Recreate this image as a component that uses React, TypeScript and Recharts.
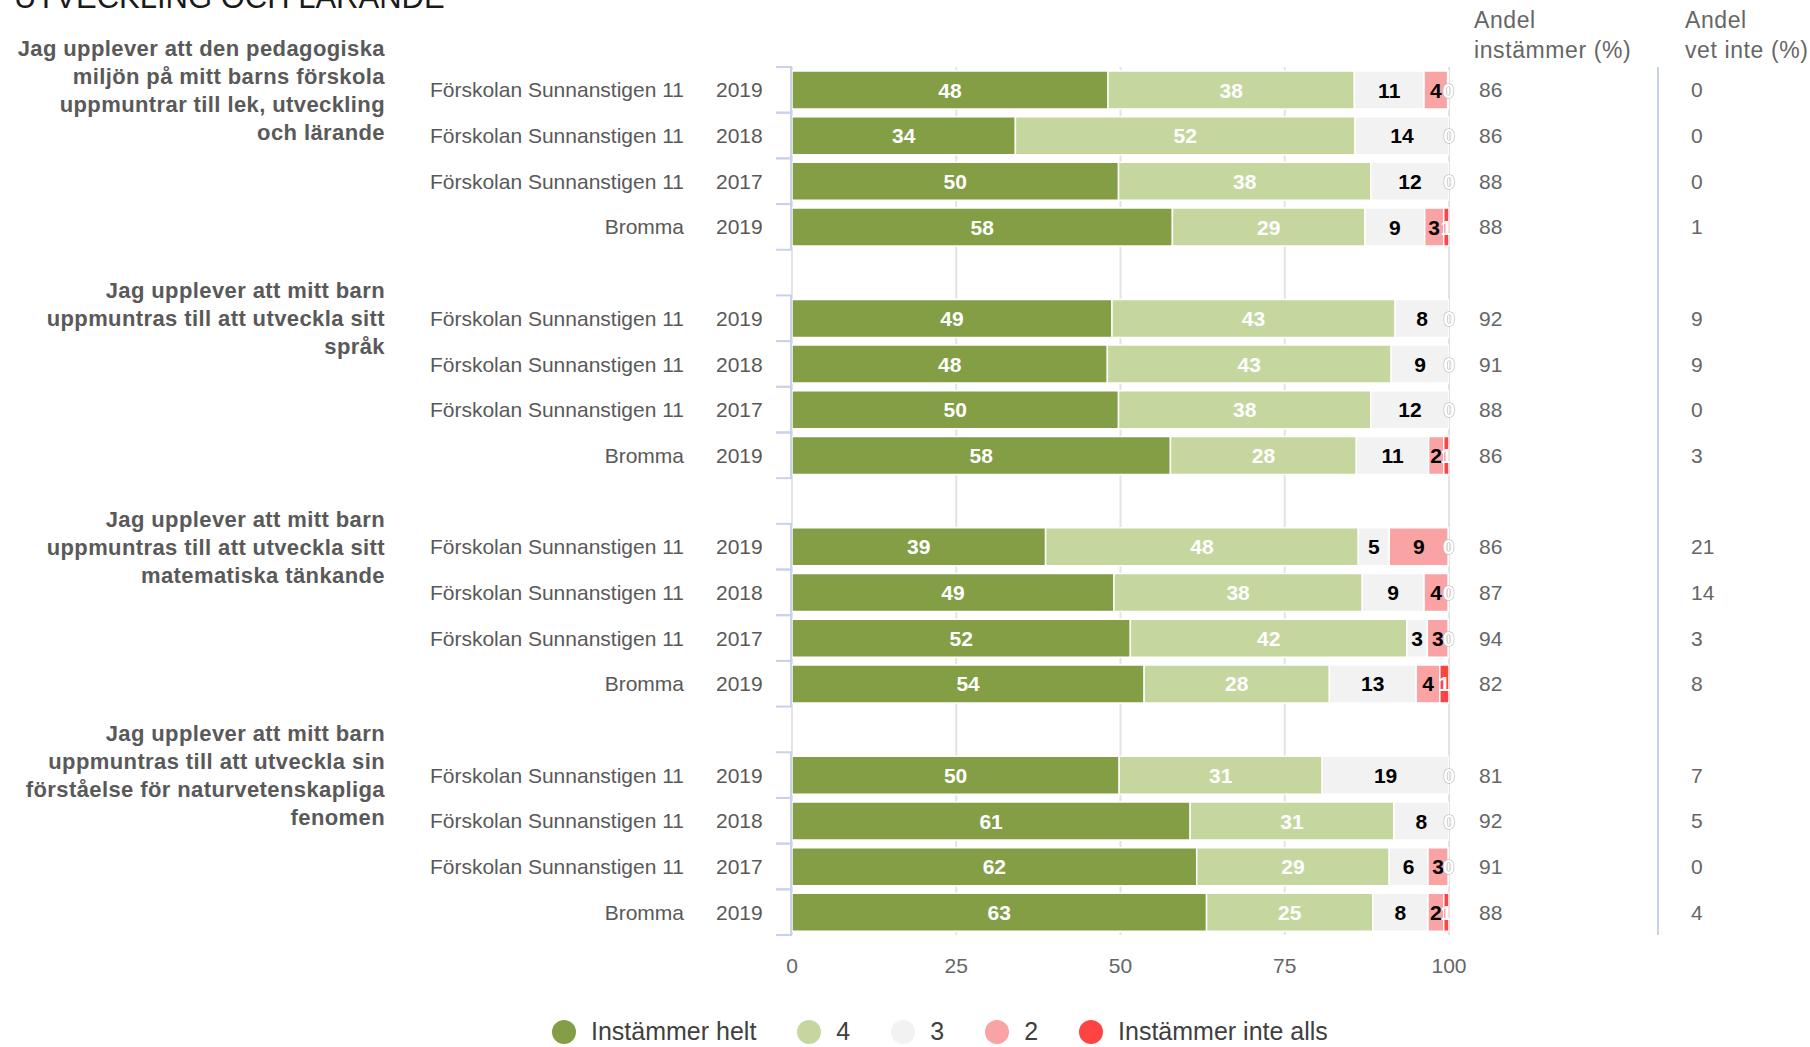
import React from "react";
import { BarChart, Bar, XAxis, YAxis, CartesianGrid, Legend, LabelList } from "recharts";

const questions = [
  ["Jag upplever att den pedagogiska", "miljön på mitt barns förskola", "uppmuntrar till lek, utveckling", "och lärande"],
  ["Jag upplever att mitt barn", "uppmuntras till att utveckla sitt", "språk"],
  ["Jag upplever att mitt barn", "uppmuntras till att utveckla sitt", "matematiska tänkande"],
  ["Jag upplever att mitt barn", "uppmuntras till att utveckla sin", "förståelse för naturvetenskapliga", "fenomen"],
];
const units = ["Förskolan Sunnanstigen 11", "Förskolan Sunnanstigen 11", "Förskolan Sunnanstigen 11", "Bromma"];
const years = ["2019", "2018", "2017", "2019"];

// share per answer, 4 rows per question
const helt = [48.1, 34.0, 49.7, 57.9, 48.7, 48.0, 49.7, 57.6, 38.6, 49.0, 51.5, 53.6, 49.8, 60.6, 61.6, 63.1];
const fyra = [37.5, 51.7, 38.4, 29.3, 43.1, 43.2, 38.4, 28.3, 47.6, 37.8, 42.1, 28.2, 30.9, 31.0, 29.3, 25.3];
const tre = [10.6, 14.3, 11.9, 9.1, 8.2, 8.8, 11.9, 11.0, 4.7, 9.4, 3.1, 13.2, 19.3, 8.4, 5.9, 8.4];
const tva = [3.6, 0, 0, 2.9, 0, 0, 0, 2.3, 9.0, 3.7, 3.2, 3.6, 0, 0, 3.1, 2.4];
const inteAlls = [0.2, 0, 0, 0.8, 0, 0, 0, 0.8, 0.1, 0.1, 0.1, 1.4, 0, 0, 0.1, 0.8];

const andelInstammer = [86, 86, 88, 88, 92, 91, 88, 86, 86, 87, 94, 82, 81, 92, 91, 88];
const andelVetInte = [0, 0, 0, 1, 9, 9, 0, 3, 21, 14, 3, 8, 7, 5, 0, 4];

const seriesKeys = ["helt", "fyra", "tre", "tva", "inteAlls"];
const seriesNames = ["Instämmer helt", "4", "3", "2", "Instämmer inte alls"];
const seriesColors = ["#839e45", "#c5d79f", "#f2f2f2", "#f9a3a4", "#fe4343"];
const labelColors = ["#fff", "#fff", "#000", "#000", "#fff"];
const xTicks = [0, 25, 50, 75, 100];

const W = 1810;
const H = 1047;
const PLOT_TOP = 67;
const PLOT_BOTTOM = 935;
const PLOT_LEFT = 792;
const FONT = '"Liberation Sans", Arial, Helvetica, sans-serif';

type Row = { key: string; gap?: boolean; q?: number; first?: boolean; i?: number; [k: string]: any };

const rows: Row[] = [];
questions.forEach((_, qi) => {
  if (qi > 0) rows.push({ key: `gap${qi}`, gap: true });
  units.forEach((u, ui) => {
    const i = qi * 4 + ui;
    rows.push({
      key: `r${i}`,
      q: qi,
      first: ui === 0,
      i,
      unit: u,
      year: years[ui],
      helt: helt[i],
      fyra: fyra[i],
      tre: tre[i],
      tva: tva[i],
      inteAlls: inteAlls[i],
    });
  });
});

const BAND = (PLOT_BOTTOM - PLOT_TOP) / rows.length;

function RowTick(props: any) {
  const { y, payload } = props;
  const row = rows.find((r) => r.key === payload.value);
  const gray = "#595959";
  const axisBlue = "#c9d3e8";
  const extras =
    row && row.key === "r0" ? (
      <g>
        <text x={14} y={8} fontSize={31} fill="#1a1a1a" fontFamily={FONT}>
          UTVECKLING OCH LÄRANDE
        </text>
        <g fontSize={23} fill="#666" fontFamily={FONT} letterSpacing={0.6}>
          <text x={1474} y={28}>Andel</text>
          <text x={1474} y={58}>instämmer (%)</text>
          <text x={1685} y={28}>Andel</text>
          <text x={1685} y={58}>vet inte (%)</text>
        </g>
        <line x1={1658} x2={1658} y1={PLOT_TOP} y2={PLOT_BOTTOM} stroke={axisBlue} strokeWidth={2} />
      </g>
    ) : null;
  if (!row || row.gap) return <g />;
  const top = y - BAND / 2;
  const bottom = y + BAND / 2;
  const lines = row.first ? questions[row.q!] : [];
  return (
    <g fontFamily={FONT}>
      {extras}
      <line x1={776} x2={792} y1={top} y2={top} stroke={axisBlue} strokeWidth={2} />
      <line x1={776} x2={792} y1={bottom} y2={bottom} stroke={axisBlue} strokeWidth={2} />
      <line x1={791} x2={791} y1={top} y2={bottom} stroke={axisBlue} strokeWidth={2} />
      <text x={684} y={y} dy="0.36em" textAnchor="end" fontSize={21} fill={gray}>
        {row.unit}
      </text>
      <text x={716} y={y} dy="0.36em" fontSize={21} fill={gray}>
        {row.year}
      </text>
      <text x={1479} y={y} dy="0.36em" fontSize={21} fill="#666">
        {andelInstammer[row.i!]}
      </text>
      <text x={1691} y={y} dy="0.36em" fontSize={21} fill="#666">
        {andelVetInte[row.i!]}
      </text>
      {lines.map((t, li) => (
        <text
          key={li}
          x={385}
          y={y + (li - (lines.length - 1) / 2) * 28}
          dy="0.36em"
          textAnchor="end"
          fontSize={22}
          fontWeight="bold"
          letterSpacing={0.4}
          fill={gray}
        >
          {t}
        </text>
      ))}
    </g>
  );
}

const zeroText = (x: number, y: number) => (
  <text
    x={x}
    y={y}
    dy="0.36em"
    textAnchor="middle"
    fontSize={21}
    fontWeight="bold"
    fontFamily={FONT}
    fill="#fff"
    stroke="#aaa"
    strokeWidth={1}
    paintOrder="stroke"
  >
    0
  </text>
);

const makeLabel = (si: number) => (p: any) => {
  const vb = p.viewBox ?? p;
  if (vb == null || vb.y == null) return null;
  const cy = vb.y + vb.height / 2;
  // find the row from the bar's own position in the band scale
  const row = rows[Math.floor((cy - PLOT_TOP) / BAND)];
  if (!row || row.gap) return null;
  const v = row[seriesKeys[si]];
  if (v == null) return null;
  const r = Math.round(v);
  const isLast = si === 4;
  let lastNonZero = 0;
  seriesKeys.forEach((k, j) => {
    if (row[k] > 0) lastNonZero = j;
  });
  // empty "inte alls" segment: its 0 sits at the end of the last drawn segment
  const trailingZero = row.inteAlls === 0 && si === lastNonZero ? zeroText(vb.x + vb.width, cy) : null;
  if (r === 0 && !isLast) return trailingZero;
  const cx = vb.x + vb.width / 2;
  if (r === 0) return zeroText(cx, cy);
  return (
    <g>
      <text
        x={cx}
        y={cy}
        dy="0.36em"
        textAnchor="middle"
        fontSize={21}
        fontWeight="bold"
        fontFamily={FONT}
        fill={labelColors[si]}
      >
        {r}
      </text>
      {trailingZero}
    </g>
  );
};

function LegendContent() {
  return (
    <div style={{ display: "flex", alignItems: "center", fontFamily: FONT, fontSize: 25, color: "#404040" }}>
      {seriesNames.map((n, i) => (
        <div key={n} style={{ display: "flex", alignItems: "center", marginRight: 41 }}>
          <span
            style={{
              width: 24,
              height: 24,
              borderRadius: 12,
              background: seriesColors[i],
              display: "inline-block",
              marginRight: 15,
            }}
          />
          <span>{n}</span>
        </div>
      ))}
    </div>
  );
}

export default function App() {
  return (
    <div style={{ position: "absolute", left: 0, top: 0, width: W, height: H, background: "#fff", fontFamily: FONT }}>
      <BarChart
        layout="vertical"
        width={W}
        height={H}
        data={rows}
        margin={{ top: PLOT_TOP, right: W - 1449, bottom: 72, left: 0 }}
        barSize={38}
      >
        <CartesianGrid horizontal={false} stroke="#e3e3e3" strokeWidth={2} />
        <XAxis
          type="number"
          domain={[0, 100]}
          ticks={xTicks}
          allowDataOverflow
          axisLine={false}
          tickLine={false}
          tickMargin={17}
          height={40}
          tick={{ fontSize: 21, fill: "#666", fontFamily: FONT }}
        />
        <YAxis
          type="category"
          dataKey="key"
          width={PLOT_LEFT}
          axisLine={false}
          tickLine={false}
          interval={0}
          tick={(p: any) => <RowTick {...p} />}
        />
        <Legend
          layout="horizontal"
          verticalAlign="middle"
          wrapperStyle={{ position: "absolute", left: 552, top: 1017, width: 1000, height: 30 }}
          content={() => <LegendContent />}
        />
        {seriesKeys.map((k, si) => (
          <Bar
            key={k}
            dataKey={k}
            name={seriesNames[si]}
            stackId="a"
            fill={seriesColors[si]}
            stroke="#fff"
            strokeWidth={1.5}
            isAnimationActive={false}
          >
            <LabelList dataKey={k} content={makeLabel(si)} />
          </Bar>
        ))}
      </BarChart>
    </div>
  );
}
